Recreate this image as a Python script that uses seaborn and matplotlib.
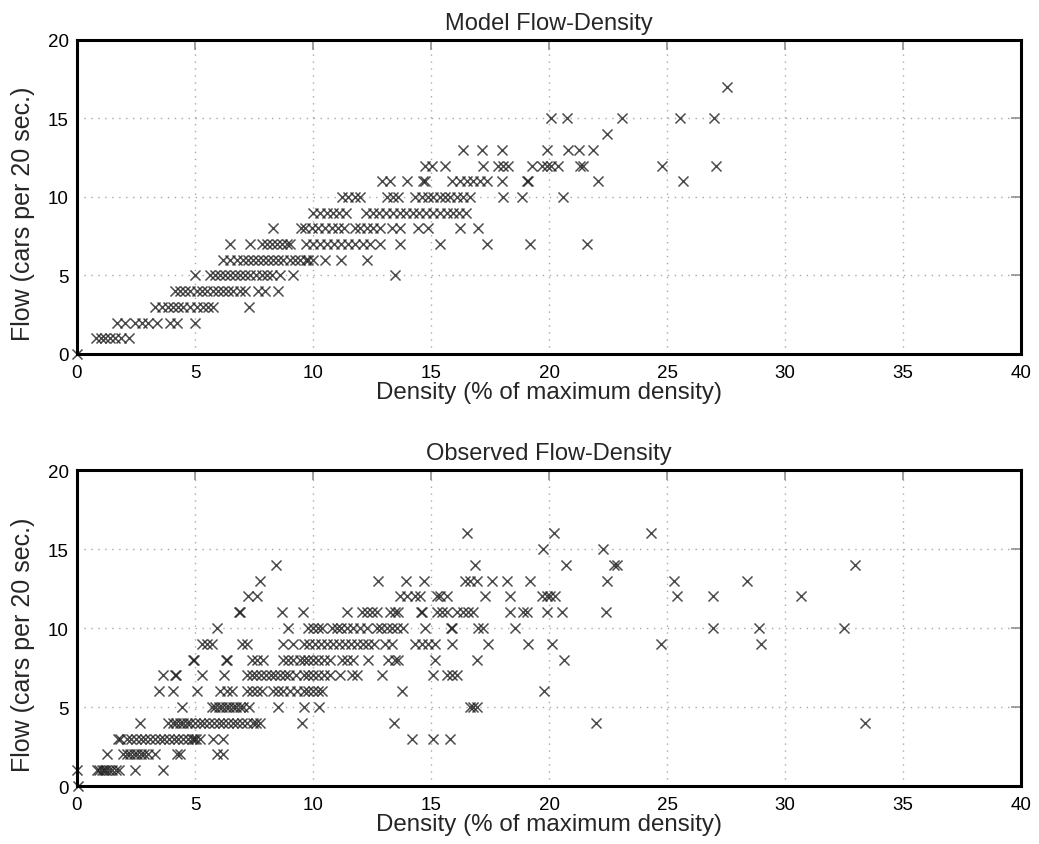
import numpy as np
import pandas as pd
import matplotlib
matplotlib.use('Agg')
import matplotlib.pyplot as plt
import seaborn as sns

# flow levels (cars per 20 sec.) and the densities seen at each level
model_flow = [0, 1, 2, 3, 4, 5, 6, 7, 8, 9, 10, 11, 12, 13, 14, 15, 17]
model_density = [
    [0.0],
    [0.8, 1.0, 1.2, 1.4, 1.6, 1.85, 2.2],
    [1.68, 2.03, 2.46, 2.74, 3.02, 3.38, 3.94, 4.22, 5.0],
    [3.31, 3.59, 3.87, 4.08, 4.29, 4.5, 4.79, 5.07, 5.35, 5.56, 5.78, 7.29],
    [4.15, 4.36, 4.58, 4.79, 5.07, 5.28, 5.5, 5.78, 5.99, 6.2, 6.41, 6.62, 6.9, 7.12, 7.68, 7.97, 8.53],
    [5.0, 5.64, 5.85, 6.06, 6.27, 6.48, 6.7, 6.9, 7.12, 7.33, 7.6, 7.83, 8.04, 8.25, 8.6, 9.17, 13.48],
    [6.2, 6.48, 6.77, 7.05, 7.26, 7.47, 7.68, 7.9, 8.1, 8.32, 8.53, 8.74, 9.03, 9.24, 9.45,
     9.7, 9.8, 10.0, 10.5, 11.2, 12.27],
    [6.48, 7.33, 7.83, 8.04, 8.25, 8.47, 8.68, 8.9, 9.03, 9.7, 10.0, 10.3, 10.6, 10.9, 11.2,
     11.5, 11.8, 12.1, 12.4, 12.84, 13.69, 15.38, 17.36, 19.2, 21.6],
    [8.32, 9.5, 9.66, 9.94, 10.2, 10.5, 10.8, 11.07, 11.3, 11.78, 12.0, 12.3, 12.56, 12.84,
     13.33, 13.69, 14.46, 14.89, 16.23, 17.0],
    [10.01, 10.3, 10.6, 10.85, 11.1, 11.4, 12.26, 12.54, 12.8, 13.1, 13.4, 13.67, 13.95,
     14.24, 14.5, 14.8, 15.1, 15.4, 15.66, 15.95, 16.2, 16.5],
    [11.22, 11.5, 11.78, 11.99, 13.12, 13.4, 13.61, 14.32, 14.6, 14.89, 15.1, 15.38, 15.59,
     15.8, 16.09, 16.37, 16.65, 18.06, 18.84, 20.6],
    [12.91, 13.26, 13.97, 14.67, 14.75, 15.88, 16.23, 16.51, 16.79, 17.08, 17.36, 18.0,
     19.06, 19.1, 22.09, 25.66],
    [14.75, 15.03, 15.59, 17.22, 17.85, 18.07, 18.28, 19.27, 19.69, 19.9, 20.1, 20.4, 21.3,
     21.45, 24.77, 27.06],
    [16.37, 17.15, 18.0, 19.9, 20.8, 21.28, 21.88],
    [22.44],
    [20.07, 20.75, 23.1, 25.55, 26.99],
    [27.55],
]

obs_flow = [0, 1, 2, 3, 4, 5, 6, 7, 8, 9, 10, 11, 12, 13, 14, 15, 16]
obs_density = [
    [0.05],
    [0.0, 0.83, 0.95, 1.05, 1.15, 1.25, 1.35, 1.5, 1.65, 1.8, 2.46, 3.66],
    [1.26, 1.96, 2.1, 2.25, 2.4, 2.55, 2.7, 2.85, 3.0, 3.3, 4.22, 4.36, 5.92, 6.2],
    [1.75, 1.82, 2.1, 2.3, 2.5, 2.7, 2.9, 3.1, 3.3, 3.5, 3.7, 3.9, 4.1, 4.3, 4.5, 4.7, 4.88,
     4.95, 5.05, 5.2, 5.78, 6.2, 14.21, 15.1, 15.8],
    [2.67, 3.87, 4.05, 4.2, 4.35, 4.5, 4.65, 4.8, 5.0, 5.2, 5.4, 5.6, 5.8, 6.0, 6.2, 6.4,
     6.6, 6.8, 7.0, 7.2, 7.45, 7.6, 7.75, 9.55, 13.43, 21.97, 33.39],
    [4.44, 5.71, 5.85, 6.0, 6.15, 6.3, 6.45, 6.6, 6.75, 6.9, 7.05, 7.3, 8.53, 9.62, 10.25,
     16.65, 16.8, 16.94],
    [3.49, 4.08, 5.07, 6.06, 6.34, 6.55, 7.19, 7.4, 7.61, 7.83, 8.32, 8.53, 8.74, 9.03, 9.31,
     9.6, 9.8, 10.0, 10.2, 10.4, 13.76, 19.8],
    [3.66, 4.15, 4.2, 5.28, 6.23, 7.19, 7.4, 7.6, 7.8, 8.0, 8.2, 8.4, 8.6, 8.8, 9.0, 9.3,
     9.6, 9.8, 10.0, 10.2, 10.45, 10.7, 11.14, 11.64, 11.85, 12.91, 15.1, 15.66, 15.88, 16.09],
    [4.9, 4.95, 6.3, 6.35, 7.4, 7.61, 7.9, 8.74, 8.95, 9.17, 9.45, 9.6, 9.8, 10.0, 10.2,
     10.45, 10.7, 11.22, 11.43, 11.71, 12.35, 13.19, 13.48, 13.62, 15.17, 16.94, 20.63],
    [5.28, 5.49, 5.71, 6.98, 7.19, 8.74, 9.17, 9.6, 9.85, 10.1, 10.35, 10.6, 10.85, 11.1,
     11.35, 11.6, 11.85, 12.1, 12.35, 12.6, 13.05, 13.33, 14.32, 14.6, 14.89, 15.17, 15.88,
     17.43, 19.13, 20.14, 24.73, 28.97],
    [5.92, 8.96, 9.8, 10.0, 10.2, 10.37, 10.79, 11.0, 11.2, 11.43, 11.7, 12.0, 12.27, 12.7,
     12.9, 13.12, 13.33, 13.55, 13.83, 14.75, 15.85, 15.9, 17.0, 17.2, 18.56, 26.96, 28.9, 32.5],
    [6.85, 6.9, 8.67, 9.59, 11.43, 12.06, 12.27, 12.49, 12.7, 13.26, 13.48, 13.62, 14.58,
     14.62, 15.24, 15.45, 15.66, 16.09, 16.37, 16.58, 16.8, 18.35, 18.9, 19.05, 19.93, 20.53, 22.4],
    [7.26, 7.61, 13.69, 13.97, 14.32, 14.53, 15.24, 15.38, 15.66, 17.29, 18.35, 19.69, 19.9,
     20.04, 20.25, 25.41, 26.96, 30.66],
    [7.75, 12.77, 13.94, 14.7, 16.44, 16.65, 16.94, 17.57, 18.21, 19.2, 22.47, 25.29, 28.4],
    [8.43, 16.87, 20.72, 22.75, 22.86, 32.97],
    [19.73, 22.3],
    [16.54, 20.21, 24.31],
]

titles = ['Model Flow-Density', 'Observed Flow-Density']
xlabel = 'Density (% of maximum density)'
ylabel = 'Flow (cars per 20 sec.)'


def to_frame(levels, rows):
    dens, flow = [], []
    for f, r in zip(levels, rows):
        dens += r
        flow += [f] * len(r)
    return pd.DataFrame({'density': dens, 'flow': flow})


sns.set_style('white')
plt.rcParams['font.family'] = ['Liberation Sans', 'DejaVu Sans']

fig = plt.figure(figsize=(10.39, 8.45), dpi=100)
ax1 = fig.add_axes([0.0741, 0.5799, 0.9086, 0.3716])
ax2 = fig.add_axes([0.0741, 0.0686, 0.9086, 0.3740])

frames = [to_frame(model_flow, model_density), to_frame(obs_flow, obs_density)]

for ax, df, title in zip([ax1, ax2], frames, titles):
    sns.scatterplot(data=df, x='density', y='flow', marker='x', s=52, color='#1e1e1e',
                    linewidth=1.1, alpha=0.8, clip_on=False, zorder=3, ax=ax)
    ax.set_xlim(0, 40)
    ax.set_ylim(0, 20)
    ax.set_xticks(np.arange(0, 41, 5))
    ax.set_yticks(np.arange(0, 21, 5))
    ax.grid(True, color='#a8a8a8', linestyle=(0, (1, 4)), linewidth=1.0)
    ax.tick_params(direction='in', length=7, width=1.2, color='#909090',
                   labelsize=13.5, labelcolor='black', top=True, right=True)
    ax.tick_params(axis='x', pad=7)
    ax.tick_params(axis='y', pad=6)
    for sp in ax.spines.values():
        sp.set_linewidth(2.2)
        sp.set_color('black')
        sp.set_zorder(4)
    ax.set_title(title, fontsize=17, pad=8)
    ax.set_xlabel(xlabel, fontsize=17.4, labelpad=0)
    ax.set_ylabel(ylabel, fontsize=18)
    ax.yaxis.set_label_coords(-0.044, 0.45)

fig.savefig('out.png', dpi=100)
